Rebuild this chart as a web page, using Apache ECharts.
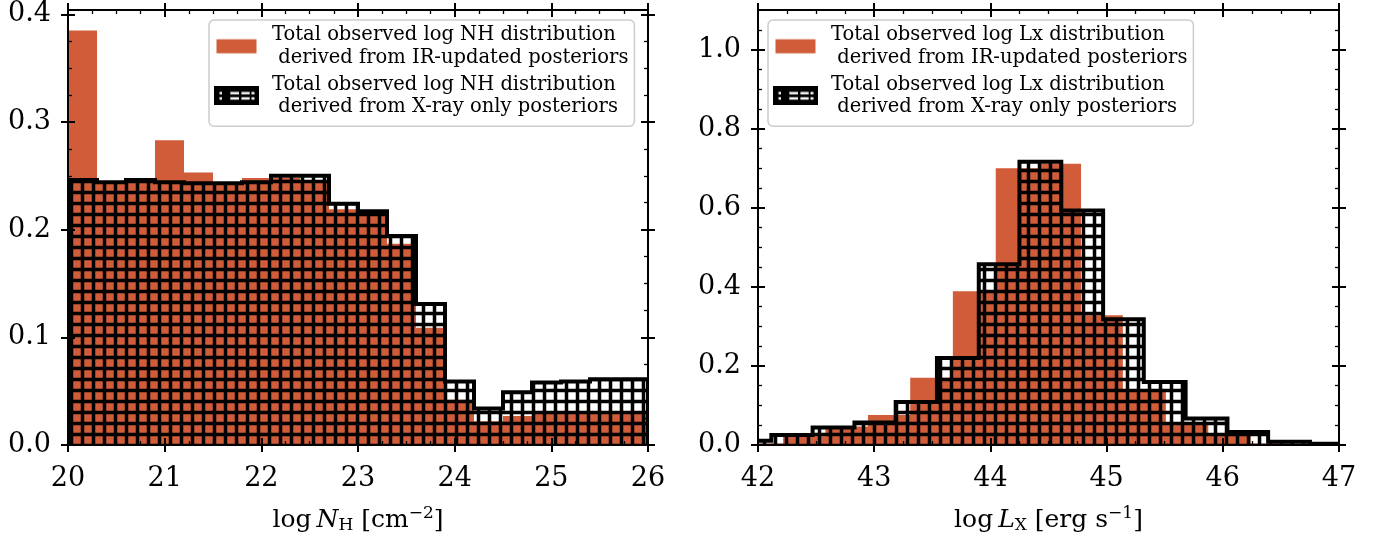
<!DOCTYPE html>
<html>
<head>
<meta charset="utf-8">
<script src="https://cdn.jsdelivr.net/npm/echarts@6/dist/echarts.min.js"></script>
<style>
  html, body { margin: 0; padding: 0; background: #fff; }
  #chart { width: 1383px; height: 539px; }
</style>
</head>
<body>
<div id="chart"></div>
<script>
// ---------- log NH histograms (bin edges, normalised heights) ----------
const nhEdges = [20.0, 20.3, 20.6, 20.9, 21.2, 21.5, 21.8, 22.1, 22.4, 22.7, 23.0,
                 23.3, 23.6, 23.9, 24.2, 24.5, 24.8, 25.1, 25.4, 25.7, 26.0];
const nhIR   = [0.385, 0.243, 0.245, 0.283, 0.253, 0.242, 0.248, 0.248, 0.246, 0.219,
                0.214, 0.187, 0.109, 0.042, 0.022, 0.027, 0.031, 0.031, 0.031, 0.031];
const nhXray = [0.246, 0.244, 0.246, 0.244, 0.243, 0.243, 0.244, 0.250, 0.250, 0.224,
                0.217, 0.194, 0.131, 0.059, 0.034, 0.049, 0.058, 0.059, 0.061, 0.061];
const nhXTicks = [20, 21, 22, 23, 24, 25, 26];
const nhYTicks = [0, 0.1, 0.2, 0.3, 0.4];

// ---------- log Lx histograms ----------
const lxEdgesIR = [41.85, 42.216, 42.58, 42.947, 43.31, 43.677, 44.046, 44.41, 44.78,
                   45.14, 45.51, 45.875, 46.24, 46.61, 46.97];
const lxIR = [0.004, 0.022, 0.047, 0.076, 0.170, 0.389, 0.700, 0.711, 0.328, 0.134,
              0.054, 0.028, 0.004, 0.001];
const lxEdgesXray = [41.76, 42.115, 42.47, 42.83, 43.185, 43.54, 43.90, 44.25, 44.61,
                     44.97, 45.32, 45.68, 46.04, 46.39, 46.75, 47.10];
const lxXray = [0.011, 0.025, 0.044, 0.057, 0.109, 0.220, 0.457, 0.716, 0.593, 0.318,
                0.159, 0.067, 0.033, 0.008, 0.003];
const lxXTicks = [42, 43, 44, 45, 46, 47];
const lxYTicks = [0, 0.2, 0.4, 0.6, 0.8, 1.0];

// ---------- legend labels ----------
const nhNameIR   = 'Total observed log NH distribution\n derived from IR-updated posteriors';
const nhNameXray = 'Total observed log NH distribution\n derived from X-ray only posteriors';
const lxNameIR   = 'Total observed log Lx distribution\n derived from IR-updated posteriors';
const lxNameXray = 'Total observed log Lx distribution\n derived from X-ray only posteriors';

const ORANGE = '#d05c39';
const FONT = 'DejaVu Serif';

// '+' hatch tile: black grid lines on a transparent background
const hatchTile = document.createElement('canvas');
hatchTile.width = 11; hatchTile.height = 11;
(function () {
  const g = hatchTile.getContext('2d');
  g.fillStyle = '#000';
  g.fillRect(0, 3.75, 11, 3.5);
  g.fillRect(3.75, 0, 3.5, 11);
})();
const hatchPattern = { image: hatchTile, repeat: 'repeat' };

// legend swatches
function swatch(draw) {
  const c = document.createElement('canvas');
  c.width = 45; c.height = 19;
  draw(c.getContext('2d'));
  return 'image://' + c.toDataURL();
}
const orangeIcon = swatch(g => { g.fillStyle = ORANGE; g.fillRect(2.5, 2.5, 40, 14); });
const hatchIcon = swatch(g => {
  g.fillStyle = '#000'; g.fillRect(0, 0, 45, 19);
  g.fillStyle = '#fff';
  [[5.5, 8], [16.3, 25], [27.4, 35.7], [37.5, 40.5]].forEach(([x0, x1]) => {
    g.fillRect(x0, 5.5, x1 - x0, 2.4);
    g.fillRect(x0, 10.8, x1 - x0, 2.4);
  });
});

function minorTicks(min, max, majorStep, n) {
  const step = majorStep / n, out = [];
  for (let k = 1; min + k * step < max - 1e-9; k++) {
    if (k % n) out.push(+(min + k * step).toFixed(6));
  }
  return out;
}

const xAxes = [], yAxes = [];
const tickLine = { color: '#000', width: 2 };
const minorLine = { color: '#000', width: 1.3 };

// one side of a frame: spine + inner major ticks (+ labels), outer major ticks, inner minor ticks
function addSide(list, gridIndex, position, range, majors, minors, labelOpt, nameOpt) {
  const common = {
    type: 'value', gridIndex, position, offset: 0, min: range[0], max: range[1], z: 10,
    splitLine: { show: false }
  };
  const main = Object.assign({}, common, {
    axisLine: { show: true, onZero: false, lineStyle: { color: '#000', width: 2 } },
    axisTick: { show: true, inside: true, length: 7, customValues: majors, lineStyle: tickLine },
    axisLabel: labelOpt ? Object.assign({ show: true, customValues: majors, fontFamily: FONT,
      fontSize: 27, color: '#000' }, labelOpt) : { show: false }
  }, nameOpt || {});
  const outer = Object.assign({}, common, {
    axisLine: { show: false, onZero: false },
    axisTick: { show: true, inside: false, length: 7, customValues: majors, lineStyle: tickLine },
    axisLabel: { show: false }
  });
  const minor = Object.assign({}, common, {
    axisLine: { show: false, onZero: false },
    axisTick: { show: true, inside: true, length: 4, customValues: minors, lineStyle: minorLine },
    axisLabel: { show: false }
  });
  const idx = list.length;
  list.push(main, outer, minor);
  return idx;
}

function axisTitle(rich) {
  return {
    name: rich, nameLocation: 'middle', nameGap: 60,
    nameTextStyle: {
      fontFamily: FONT, fontSize: 25, color: '#000',
      rich: {
        r: { fontFamily: FONT, fontSize: 25, color: '#000' },
        i: { fontFamily: FONT, fontSize: 25, fontStyle: 'italic', color: '#000' },
        s: { fontFamily: FONT, fontSize: 17, color: '#000', padding: [10, 0, 0, 0] },
        p: { fontFamily: FONT, fontSize: 17, color: '#000', padding: [0, 0, 14, 0] }
      }
    }
  };
}

// left panel: log NH
const nhXRange = [20, 26], nhYRange = [0, 0.404];
const nhXi = addSide(xAxes, 0, 'bottom', nhXRange, nhXTicks, minorTicks(20, 26, 1, 4),
  { margin: 20, formatter: v => String(v) },
  axisTitle('{r|log}{r|\u2009}{i|N}{s|H}{r| [cm}{p|\u22122}{r|]}'));
addSide(xAxes, 0, 'top', nhXRange, nhXTicks, minorTicks(20, 26, 1, 4), null);
const nhYi = addSide(yAxes, 0, 'left', nhYRange, nhYTicks, minorTicks(0, 0.404, 0.1, 4),
  { margin: 17, formatter: v => v.toFixed(1) });
addSide(yAxes, 0, 'right', nhYRange, nhYTicks, minorTicks(0, 0.404, 0.1, 4), null);

// right panel: log Lx
const lxXRange = [42, 47], lxYRange = [0, 1.1];
const lxXi = addSide(xAxes, 1, 'bottom', lxXRange, lxXTicks, minorTicks(42, 47, 1, 4),
  { margin: 20, formatter: v => String(v) },
  axisTitle('{r|log}{r|\u2009}{i|L}{s|X}{r| [erg s}{p|\u22121}{r|]}'));
addSide(xAxes, 1, 'top', lxXRange, lxXTicks, minorTicks(42, 47, 1, 4), null);
const lxYi = addSide(yAxes, 1, 'left', lxYRange, lxYTicks, minorTicks(0, 1.1, 0.2, 4),
  { margin: 17, formatter: v => v.toFixed(1) });
addSide(yAxes, 1, 'right', lxYRange, lxYTicks, minorTicks(0, 1.1, 0.2, 4), null);

// step outline of a histogram, in pixel space
function stepPoints(api, edges, heights) {
  const pts = [api.coord([edges[0], 0])];
  heights.forEach((h, i) => {
    pts.push(api.coord([edges[i], h]));
    pts.push(api.coord([edges[i + 1], h]));
  });
  pts.push(api.coord([edges[edges.length - 1], 0]));
  return pts;
}

function filledHist(name, edges, heights, xi, yi) {
  return {
    type: 'custom', name, xAxisIndex: xi, yAxisIndex: yi, clip: true, z: 2, silent: true,
    itemStyle: { color: ORANGE }, data: [0],
    renderItem: (params, api) => ({
      type: 'polygon', shape: { points: stepPoints(api, edges, heights) },
      style: { fill: ORANGE, stroke: null }
    })
  };
}

function hatchedHist(name, edges, heights, xi, yi) {
  return {
    type: 'custom', name, xAxisIndex: xi, yAxisIndex: yi, clip: true, z: 3, silent: true,
    itemStyle: { color: '#000' }, data: [0],
    renderItem: (params, api) => {
      const pts = stepPoints(api, edges, heights);
      return {
        type: 'group', children: [
          { type: 'polygon', shape: { points: pts }, style: { fill: hatchPattern, stroke: null } },
          { type: 'polyline', shape: { points: pts },
            style: { fill: null, stroke: '#000', lineWidth: 4, lineJoin: 'miter' } }
        ]
      };
    }
  };
}

function legendBox(left, names) {
  return {
    orient: 'vertical', left, top: 20, selectedMode: false,
    itemWidth: 45, itemHeight: 19, itemGap: 5,
    padding: [4, 6, 8, 5],
    backgroundColor: 'rgba(255,255,255,0.8)', borderColor: '#cccccc', borderWidth: 1.5, borderRadius: 5,
    textStyle: { fontFamily: FONT, fontSize: 19.5, lineHeight: 22.3, color: '#000', padding: [0, 0, 0, 8] },
    data: [{ name: names[0], icon: orangeIcon }, { name: names[1], icon: hatchIcon }]
  };
}

const chart = echarts.init(document.getElementById('chart'), null, { renderer: 'canvas' });
chart.setOption({
  animation: false,
  backgroundColor: '#fff',
  grid: [
    { left: 68, top: 10, width: 580, height: 437.5, show: false },
    { left: 758, top: 10, width: 581, height: 437.5, show: false }
  ],
  xAxis: xAxes,
  yAxis: yAxes,
  legend: [legendBox(209, [nhNameIR, nhNameXray]), legendBox(768, [lxNameIR, lxNameXray])],
  series: [
    filledHist(nhNameIR, nhEdges, nhIR, nhXi, nhYi),
    hatchedHist(nhNameXray, nhEdges, nhXray, nhXi, nhYi),
    filledHist(lxNameIR, lxEdgesIR, lxIR, lxXi, lxYi),
    hatchedHist(lxNameXray, lxEdgesXray, lxXray, lxXi, lxYi)
  ]
});
</script>
</body>
</html>
